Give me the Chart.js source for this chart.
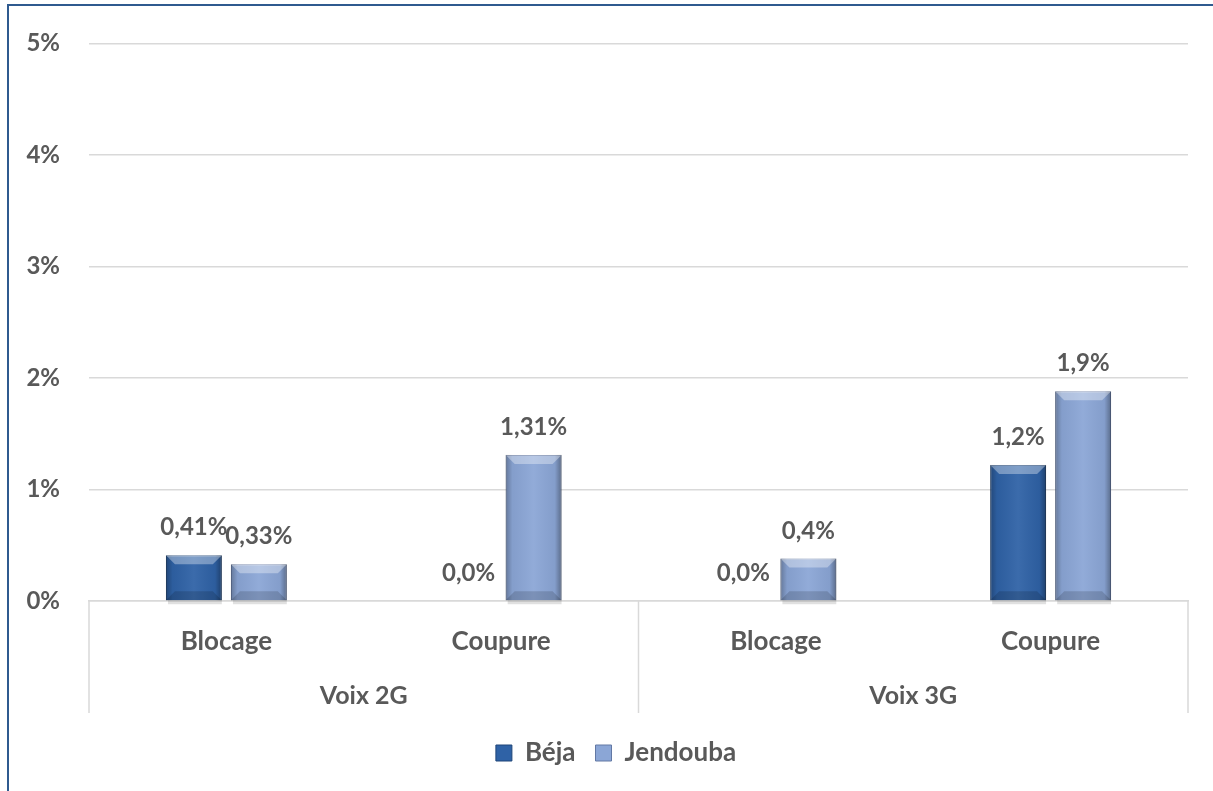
<!DOCTYPE html>
<html>
<head>
<meta charset="utf-8">
<script src="https://cdn.jsdelivr.net/npm/chart.js@4.4.1/dist/chart.umd.min.js"></script>
<style>
  html, body { margin: 0; padding: 0; background: #fff; overflow: hidden; }
  #frame { position: absolute; left: 7px; top: 4px; width: 1220px; height: 800px;
           border-left: 2px solid #2f5a8f; border-top: 2px solid #2f5a8f; }
  #myChart { position: absolute; left: 0; top: 0; }
</style>
</head>
<body>
<div id="frame"></div>
<canvas id="myChart" width="1213" height="791"></canvas>
<script>
// data
const categories = ['Blocage', 'Coupure', 'Blocage', 'Coupure'];
const groups = ['Voix 2G', 'Voix 3G'];
const bejaValues = [0.41, 0, 0, 1.22];
const jendoubaValues = [0.33, 1.31, 0.38, 1.88];
const bejaLabels = ['0,41%', '0,0%', '0,0%', '1,2%'];
const jendoubaLabels = ['0,33%', '1,31%', '0,4%', '1,9%'];
const yTickLabels = ['0%', '1%', '2%', '3%', '4%', '5%'];

const textGrey = '#595959';
const lineGrey = '#d9d9d9';

// bevel look on the bars
const bevel = {
  id: 'bevel',
  afterDatasetsDraw(chart) {
    const c = chart.ctx;
    chart.data.datasets.forEach((ds, i) => {
      chart.getDatasetMeta(i).data.forEach(bar => {
        const p = bar.getProps(['x', 'y', 'base', 'width'], true);
        const h = p.base - p.y;
        if (h < 1) return;
        const l = p.x - p.width / 2, r = p.x + p.width / 2;
        const b = Math.min(9, h / 2);
        c.save();
        // soft shadow under the bar
        c.fillStyle = 'rgba(0,0,0,0.12)';
        c.fillRect(l + 2, p.base, p.width - 2, 4);
        const g = c.createLinearGradient(l, 0, r, 0);
        g.addColorStop(0, 'rgba(0,0,0,0.28)');
        g.addColorStop(0.12, 'rgba(0,0,0,0.05)');
        g.addColorStop(0.5, 'rgba(255,255,255,0.06)');
        g.addColorStop(0.88, 'rgba(0,0,0,0.05)');
        g.addColorStop(1, 'rgba(0,0,0,0.35)');
        c.fillStyle = g;
        c.fillRect(l, p.y, p.width, h);
        c.beginPath();
        c.moveTo(l, p.y); c.lineTo(r, p.y); c.lineTo(r - b, p.y + b); c.lineTo(l + b, p.y + b);
        c.closePath();
        c.fillStyle = 'rgba(255,255,255,0.35)';
        c.fill();
        c.beginPath();
        c.moveTo(l, p.base); c.lineTo(r, p.base); c.lineTo(r - b, p.base - b); c.lineTo(l + b, p.base - b);
        c.closePath();
        c.fillStyle = 'rgba(0,0,0,0.15)';
        c.fill();
        c.restore();
      });
    });
  }
};

// value labels above the bars
const valueLabels = {
  id: 'valueLabels',
  afterDatasetsDraw(chart) {
    const c = chart.ctx;
    const texts = [bejaLabels, jendoubaLabels];
    c.save();
    c.font = 'bold 24px Lato';
    c.fillStyle = textGrey;
    c.textAlign = 'center';
    c.textBaseline = 'alphabetic';
    chart.data.datasets.forEach((ds, i) => {
      chart.getDatasetMeta(i).data.forEach((bar, j) => {
        c.fillText(texts[i][j], bar.x, bar.y - 20);
      });
    });
    c.restore();
  }
};

// vertical separators of the two groups
const groupLines = {
  id: 'groupLines',
  afterLayout(chart) {
    // legend sits a bit right of the middle in the original
    chart.legend.left += 24;
  },
  afterDraw(chart) {
    const x = chart.scales.x;
    const x2 = chart.scales.x2;
    const c = chart.ctx;
    const bottom = x2.top + 58;
    c.save();
    c.strokeStyle = lineGrey;
    c.lineWidth = 1.5;
    [x.left, x.getPixelForValue(1.5), x.right].forEach(px => {
      c.beginPath();
      c.moveTo(px, x.top);
      c.lineTo(px, bottom);
      c.stroke();
    });
    c.restore();
  }
};

const ctx = document.getElementById('myChart');

new Chart(ctx, {
  type: 'bar',
  data: {
    labels: categories,
    datasets: [{
      label: 'Béja',
      data: bejaValues,
      backgroundColor: '#2f62a6',
      borderColor: '#1f4578',
      borderWidth: 1
    }, {
      label: 'Jendouba',
      data: jendoubaValues,
      backgroundColor: '#8ba6d6',
      borderColor: '#6278a4',
      borderWidth: 1
    }]
  },
  plugins: [bevel, valueLabels, groupLines],
  options: {
    responsive: false,
    animation: false,
    categoryPercentage: 0.473,
    barPercentage: 0.86,
    layout: { autoPadding: false, padding: { left: 20, right: 25, top: 37, bottom: 15 } },
    plugins: {
      legend: {
        position: 'bottom',
        labels: {
          color: textGrey,
          font: { family: 'Lato', size: 26, weight: 'bold' },
          boxWidth: 16,
          boxHeight: 16,
          padding: 20
        }
      },
      tooltip: { enabled: false }
    },
    scales: {
      y: {
        min: 0,
        max: 5,
        ticks: {
          stepSize: 1,
          padding: 29,
          color: textGrey,
          font: { family: 'Lato', size: 24, weight: 'bold' },
          callback: (v) => yTickLabels[v]
        },
        grid: { color: lineGrey, lineWidth: 1.5, drawTicks: false },
        border: { display: false },
        afterFit: (s) => { s.width = 69; }
      },
      x: {
        ticks: {
          padding: 25,
          color: textGrey,
          font: { family: 'Lato', size: 26, weight: 'bold' }
        },
        grid: { display: false, drawTicks: false },
        border: { display: true, color: lineGrey, width: 1.5 },
        afterFit: (s) => { s.height = 54; }
      },
      x2: {
        type: 'category',
        position: 'bottom',
        labels: groups,
        ticks: {
          padding: 26,
          color: textGrey,
          font: { family: 'Lato', size: 25, weight: 'bold' }
        },
        grid: { display: false, drawTicks: false },
        border: { display: false },
        afterFit: (s) => { s.height = 65; }
      }
    }
  }
});
</script>
</body>
</html>
